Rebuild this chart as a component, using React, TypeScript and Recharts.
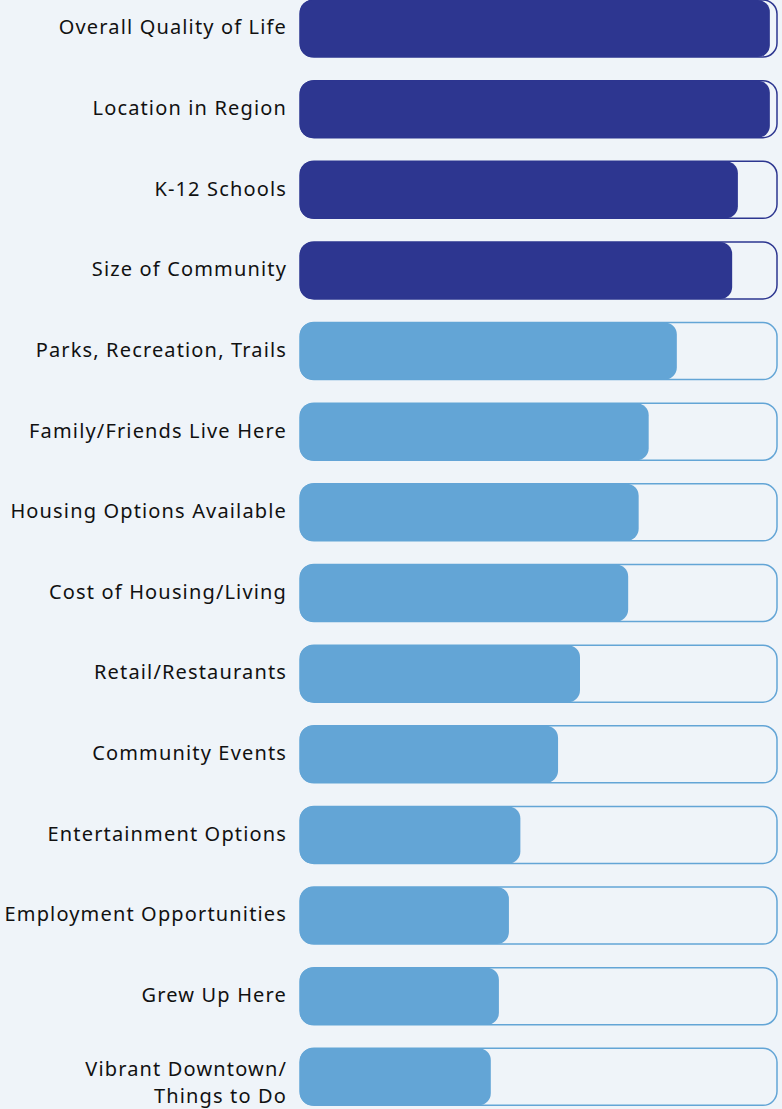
import { BarChart, Bar, XAxis, YAxis, Cell } from 'recharts';

const categories = [
  'Overall Quality of Life',
  'Location in Region',
  'K-12 Schools',
  'Size of Community',
  'Parks, Recreation, Trails',
  'Family/Friends Live Here',
  'Housing Options Available',
  'Cost of Housing/Living',
  'Retail/Restaurants',
  'Community Events',
  'Entertainment Options',
  'Employment Opportunities',
  'Grew Up Here',
  'Vibrant Downtown/\nThings to Do'
];
const values = [0.985, 0.985, 0.918, 0.906, 0.79, 0.731, 0.71, 0.688, 0.587, 0.541, 0.462, 0.438, 0.417, 0.4];
const topTier = [true, true, true, true, false, false, false, false, false, false, false, false, false, false];

const DARK = '#2d3690';
const LIGHT = '#63a5d6';
const BG = '#eff4f9';

const data = categories.map((name, i) => ({ name, value: values[i], track: 1, top: topTier[i] }));

function LabelTick({ y, payload }: any) {
  const lines = String(payload.value).split('\n');
  const startDy = lines.length > 1 ? -1 : 6;
  return (
    <text x={287} y={y} textAnchor="end" fill="#111" fontSize={20} letterSpacing={1.15}
      fontFamily="'Noto Sans', sans-serif">
      {lines.map((l, i) => (
        <tspan key={i} x={287} dy={i === 0 ? startDy : 27}>{l}</tspan>
      ))}
    </text>
  );
}

export default function App() {
  return (
    <div style={{ position: 'absolute', left: 0, top: 0, width: 782, height: 1109, background: BG, overflow: 'hidden' }}>
      <div style={{ position: 'absolute', left: 0, top: -12 }}>
        <BarChart width={782} height={1129} data={data} layout="vertical" barSize={57} barGap={-57}
          margin={{ top: 0, right: 5, bottom: 0, left: 0 }}>
          <XAxis type="number" domain={[0, 1]} hide />
          <YAxis type="category" dataKey="name" width={300} axisLine={false} tickLine={false} tick={<LabelTick />} interval={0} />
          <Bar dataKey="track" isAnimationActive={false} radius={14} fill={BG} strokeWidth={1.5}>
            {data.map((d, i) => <Cell key={`t-${i}`} stroke={d.top ? DARK : LIGHT} />)}
          </Bar>
          <Bar dataKey="value" isAnimationActive={false} radius={12}>
            {data.map((d, i) => <Cell key={`v-${i}`} fill={d.top ? DARK : LIGHT} />)}
          </Bar>
        </BarChart>
      </div>
    </div>
  );
}
